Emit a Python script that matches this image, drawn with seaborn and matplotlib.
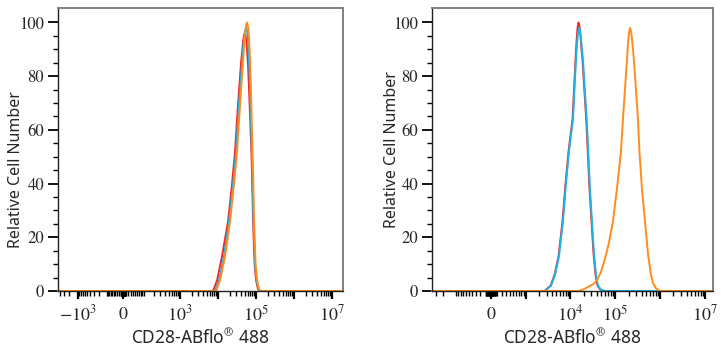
import numpy as np
import matplotlib
matplotlib.use('Agg')
import matplotlib.pyplot as plt
import seaborn as sns
from matplotlib.ticker import FixedLocator, FixedFormatter

sns.set_style('white')
plt.rcParams['mathtext.fontset'] = 'stix'

# ---------------- data (x as log10 of fluorescence, y = relative cell number) ----------
left_red_log = [3.868, 3.974, 4.105, 4.263, 4.368, 4.447, 4.500, 4.553, 4.605, 4.632,
                4.658, 4.684, 4.711, 4.737, 4.763, 4.789, 4.816, 4.842, 4.882, 4.921,
                4.961, 5.000, 5.053, 5.105]
left_red_y = [0, 4, 13, 26, 40, 52, 64, 75, 85, 89, 93, 95.5, 96, 94, 90, 84, 75, 65, 50,
              26, 10, 4, 0.5, 0]

left_cyan_log = [3.921, 4.026, 4.158, 4.289, 4.395, 4.474, 4.526, 4.579, 4.632, 4.658,
                 4.684, 4.711, 4.737, 4.763, 4.789, 4.816, 4.842, 4.868, 4.889, 4.934,
                 4.974, 5.013, 5.066, 5.118]
left_cyan_y = [0, 4, 13, 26, 40, 52, 64, 75, 85, 90, 94, 97, 98, 97, 93, 86, 75, 62, 52,
               26, 10, 4, 0.5, 0]

left_orange_log = [3.947, 4.053, 4.184, 4.316, 4.421, 4.500, 4.553, 4.605, 4.658, 4.684,
                   4.711, 4.737, 4.763, 4.789, 4.816, 4.842, 4.868, 4.895, 4.921, 4.947,
                   4.987, 5.026, 5.079, 5.132]
left_orange_y = [0, 4, 13, 26, 40, 52, 64, 75, 86, 91.5, 96, 99, 100, 98.5, 94, 86, 73,
                 58, 44, 26, 10, 4, 0.5, 0]

right_red_log = [3.434, 3.568, 3.657, 3.746, 3.834, 3.901, 3.968, 4.012, 4.057, 4.090,
                 4.123, 4.146, 4.168, 4.190, 4.212, 4.234, 4.257, 4.279, 4.301, 4.323,
                 4.346, 4.368, 4.401, 4.434, 4.479, 4.523, 4.568, 4.612, 4.679, 4.768]
right_red_y = [0, 2, 6, 13, 26, 40, 52, 58, 64, 75, 86, 93, 98, 100, 98.5, 95, 90, 86, 80,
               74, 68, 62, 50, 38, 26, 14, 6, 2, 0.5, 0]

right_cyan_log = [3.444, 3.578, 3.667, 3.756, 3.844, 3.911, 3.978, 4.022, 4.067, 4.100,
                  4.133, 4.156, 4.178, 4.200, 4.222, 4.244, 4.267, 4.289, 4.311, 4.333,
                  4.356, 4.378, 4.411, 4.444, 4.489, 4.533, 4.578, 4.622, 4.689, 4.778]
right_cyan_y = [0, 2, 6, 13, 26, 40, 52, 58, 64, 75, 86, 92, 96, 98, 97, 94, 90, 86, 80,
                74, 68, 62, 50, 38, 26, 14, 6, 2, 0.5, 0]

right_orange_log = [4.178, 4.289, 4.400, 4.511, 4.600, 4.689, 4.778, 4.867, 4.956, 5.044,
                    5.133, 5.178, 5.222, 5.267, 5.289, 5.311, 5.333, 5.356, 5.378, 5.400,
                    5.422, 5.467, 5.511, 5.544, 5.600, 5.667, 5.733, 5.800, 5.844, 5.911,
                    6.000]
right_orange_y = [0, 0.5, 1.5, 2.5, 4, 7, 12, 18, 26, 38, 52, 64, 75, 86, 92, 96, 98, 97,
                  94, 90, 86, 75, 64, 52, 38, 26, 14, 6, 3, 1, 0]

left_ticks = [-1e3, 0, 1e3, 1e4, 1e5, 1e6, 1e7]
left_labels = [r'$-10^{3}$', r'$0$', r'$10^{3}$', '', r'$10^{5}$', '', r'$10^{7}$']
right_ticks = [0, 1e3, 1e4, 1e5, 1e6, 1e7]
right_labels = [r'$0$', '', r'$10^{4}$', r'$10^{5}$', '', r'$10^{7}$']
y_ticks = [0, 20, 40, 60, 80, 100]

x_label = r'CD28-ABflo$^{\circledR}$ 488'
y_label = 'Relative Cell Number'

COL_RED = '#F2262B'
COL_CYAN = '#19B4E8'
COL_ORANGE = '#FF8C1C'


def make_scale(c, a):
    def fwd(x):
        x = np.asarray(x, dtype=float)
        s = np.arcsinh(x / c)
        return np.where(x >= 0, s, a * s)

    def inv(y):
        y = np.asarray(y, dtype=float)
        return np.where(y >= 0, c * np.sinh(y), c * np.sinh(y / a))
    return fwd, inv


def minor_ticks(xmin, xmax):
    t = []
    for n in range(0, 8):
        for k in range(1, 10):
            v = k * 10 ** n
            if v <= xmax:
                t.append(v)
            if -v >= xmin:
                t.append(-v)
    return sorted(t)


fig = plt.figure(figsize=(7.21, 3.5), dpi=100)
W, H = 721, 350
ax_l = fig.add_axes([58 / W, 59 / H, 285 / W, 283 / H])
ax_r = fig.add_axes([432 / W, 59 / H, 281 / W, 283 / H])

panels = [
    (ax_l, (63, 0.79), (-4625, 1.94e7), [(left_red_log, left_red_y, COL_RED),
                                          (left_cyan_log, left_cyan_y, COL_CYAN),
                                          (left_orange_log, left_orange_y, COL_ORANGE)],
     left_ticks, left_labels, ((24 - 58) / 285, (291 - 170) / 283)),
    (ax_r, (352, 1.0), (-3600, 1.51e7), [(right_red_log, right_red_y, COL_RED),
                                          (right_cyan_log, right_cyan_y, COL_CYAN),
                                          (right_orange_log, right_orange_y, COL_ORANGE)],
     right_ticks, right_labels, ((400 - 432) / 281, (291 - 150) / 283)),
]

for ax, (c, a), (xmin, xmax), curves, ticks, labels, ylab_xy in panels:
    fwd, inv = make_scale(c, a)
    ax.set_xscale('function', functions=(fwd, inv))
    for lg, yy, col in curves:
        xs = np.concatenate([[xmin], 10 ** np.array(lg), [xmax]])
        ys = np.concatenate([[0], np.array(yy, dtype=float), [0]])
        sns.lineplot(x=xs, y=ys, ax=ax, color=col, lw=1.4, sort=False,
                     estimator=None, clip_on=False)
    ax.set_xlim(xmin, xmax)
    ax.set_ylim(0, 105.4)

    ax.xaxis.set_major_locator(FixedLocator(ticks))
    ax.xaxis.set_major_formatter(FixedFormatter(labels))
    ax.xaxis.set_minor_locator(FixedLocator(minor_ticks(xmin, xmax)))
    ax.set_yticks(y_ticks)
    ax.set_yticks(np.arange(0, 105, 5), minor=True)

    ax.tick_params(axis='x', which='major', direction='out', length=6, width=1.6,
                   color='black', labelsize=13, pad=4, bottom=True)
    ax.tick_params(axis='x', which='minor', direction='out', length=3.5, width=1.0,
                   color='black', bottom=True)
    ax.tick_params(axis='y', which='major', direction='out', length=7, width=1.3,
                   color='black', labelsize=12, pad=3, left=True)
    ax.tick_params(axis='y', which='minor', direction='out', length=3.5, width=1.0,
                   color='black', left=True)
    for lab in ax.get_yticklabels():
        lab.set_fontfamily('STIXGeneral')

    for side in ['left', 'bottom']:
        ax.spines[side].set_color('#222222')
        ax.spines[side].set_linewidth(1.0)
    for side in ['top', 'right']:
        ax.spines[side].set_color('#808080')
        ax.spines[side].set_linewidth(1.4)

    ax.set_xlabel(x_label, fontsize=12.5, family='Noto Sans', labelpad=2)
    ax.set_ylabel(y_label, fontsize=11.5, family='Noto Sans')
    ax.yaxis.set_label_coords(*ylab_xy)

fig.savefig('out.png', dpi=100)
